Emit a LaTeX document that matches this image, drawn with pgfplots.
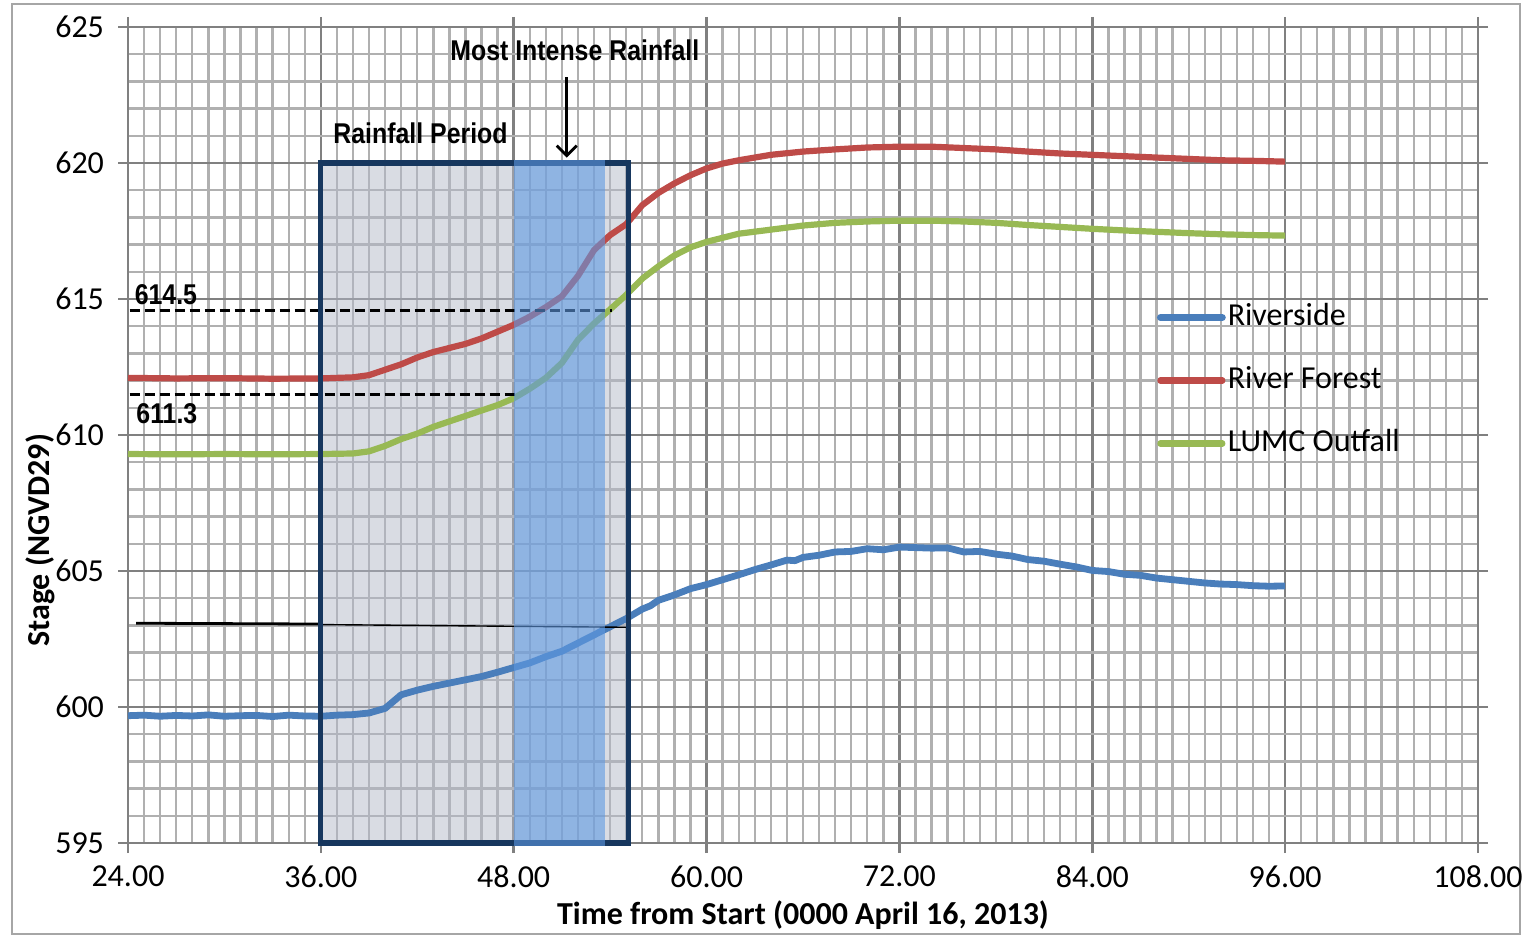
\documentclass[border=0pt]{standalone}
\usepackage{fontspec}
\setmainfont{Carlito}
\newfontfamily\annfont[FakeStretch=0.87]{Liberation Sans}
\usepackage{pgfplots}
\pgfplotsset{compat=1.18}
\usetikzlibrary{arrows.meta}
\definecolor{rsblue}{HTML}{4A7EBB}
\definecolor{rfred}{HTML}{BE4B48}
\definecolor{lumcgreen}{HTML}{98B954}
\definecolor{navy}{HTML}{17375E}
\definecolor{boxgray}{HTML}{B3B9C8}
\definecolor{intblue}{HTML}{5E99E2}
\begin{document}
\begin{tikzpicture}
\path[use as bounding box] (-64pt,-46.5pt) rectangle (698pt,421.5pt);
\draw[gray!70, line width=1pt] (-58pt,-45.5pt) rectangle (696pt,419.5pt);
\begin{axis}[
  at={(0,0)}, anchor=south west,
  scale only axis, width=675pt, height=408pt,
  xmin=24, xmax=108, ymin=595, ymax=625,
  clip=false,
  xtick={24,36,...,108}, ytick={595,600,...,625},
  minor x tick num=11, minor y tick num=4,
  grid=both,
  major grid style={color=gray!100, line width=1.3pt},
  minor grid style={color=gray!62, line width=1.2pt},
  axis line style={gray!100, line width=1.3pt},
  tick style={gray!100, line width=1.3pt},
  tick align=outside, major tick length=5pt, minor tick length=0pt,
  /pgf/number format/assume math mode=true,
  xticklabel style={/pgf/number format/.cd, fixed, fixed zerofill, precision=2, /tikz/.cd, yshift=-3pt},
  yticklabel style={xshift=-3.5pt},
  ticklabel style={font=\fontsize{16}{19}\selectfont},
  xlabel={Time from Start (0000 April 16, 2013)},
  xlabel style={font=\bfseries\fontsize{16}{19}\selectfont, at={(axis description cs:0.5,-0.0882)}, anchor=center},
  ylabel={Stage (NGVD29)},
  ylabel style={font=\bfseries\fontsize{16}{19}\selectfont, at={(axis description cs:-0.0652,0.371)}, anchor=center, rotate=0},
  legend style={draw=none, fill=none, at={(axis cs:88.0,612.0)}, anchor=west, inner sep=0pt,
    font=\fontsize{16}{19}\selectfont, row sep=14pt,
    nodes={text height=11.5pt, text depth=4pt, inner sep=1pt}},
  legend cell align=left,
  legend image code/.code={\draw[#1, line cap=round] (0pt,0pt) -- (31pt,0pt);},
]
% rainfall period background
\fill[boxgray, fill opacity=0.5] (axis cs:36,595) rectangle (axis cs:55.15,620);

\addplot[rsblue, line width=3.4pt, line join=round] coordinates {
(24,599.68) (25,599.70) (26,599.66) (27,599.69) (28,599.67) (29,599.71) (30,599.66) (31,599.68)
(32,599.69) (33,599.65) (34,599.70) (35,599.67) (36,599.66) (37,599.70) (38,599.72) (39,599.78)
(40,599.95) (40.5,600.2) (41,600.45) (42,600.62) (43,600.76) (44,600.88) (45,601.0) (46,601.12)
(47,601.28) (48,601.45) (49,601.62) (50,601.85) (51,602.05) (52,602.35) (53,602.65) (54,602.95)
(55,603.25) (56,603.6) (56.5,603.72) (57,603.92) (58,604.12) (59,604.35) (60,604.5) (61,604.68)
(62,604.86) (63,605.05) (64,605.22) (65,605.4) (65.5,605.38) (66,605.5) (67,605.58) (68,605.7)
(69,605.72) (70,605.82) (71,605.78) (72,605.88) (73,605.86) (74,605.84) (75,605.85) (76,605.7)
(77,605.72) (78,605.62) (79,605.55) (80,605.42) (81,605.36) (82,605.25) (83,605.15) (84,605.02)
(85,604.98) (86,604.88) (87,604.84) (88,604.74) (89,604.68) (90,604.62) (91,604.56) (92,604.52)
(93,604.5) (94,604.46) (95,604.44) (96,604.45)
};
\addlegendentry{Riverside}

\addplot[rfred, line width=3.1pt, line join=round] coordinates {
(24,612.1) (27,612.08) (30,612.09) (33,612.07) (36,612.08) (38,612.12) (39,612.2) (40,612.4)
(41,612.6) (42,612.85) (43,613.05) (44,613.2) (45,613.35) (46,613.55) (47,613.8) (48,614.05)
(49,614.35) (50,614.7) (51,615.1) (52,615.85) (53,616.8) (54,617.35) (55,617.75) (56,618.45)
(57,618.9) (58,619.25) (59,619.55) (60,619.8) (61,619.98) (62,620.1) (63,620.2) (64,620.3)
(66,620.42) (68,620.5) (70,620.57) (72,620.6) (74,620.6) (76,620.55) (78,620.5) (80,620.42)
(82,620.35) (84,620.3) (86,620.25) (88,620.2) (90,620.15) (92,620.1) (94,620.08) (96,620.05)
};
\addlegendentry{River Forest}

\addplot[lumcgreen, line width=3.1pt, line join=round] coordinates {
(24,609.3) (27,609.29) (30,609.3) (33,609.29) (36,609.3) (38,609.32) (39,609.4) (40,609.6)
(41,609.85) (42,610.05) (43,610.3) (44,610.5) (45,610.7) (46,610.9) (47,611.1) (48,611.35)
(49,611.7) (50,612.1) (51,612.65) (52,613.5) (53,614.1) (54,614.62) (55,615.15) (56,615.75)
(57,616.2) (58,616.6) (59,616.9) (60,617.1) (61,617.25) (62,617.4) (64,617.55) (66,617.7)
(68,617.8) (70,617.85) (72,617.88) (74,617.88) (76,617.85) (78,617.8) (80,617.72) (82,617.65)
(84,617.58) (86,617.52) (88,617.47) (90,617.42) (92,617.38) (94,617.35) (96,617.33)
};
\addlegendentry{LUMC Outfall}

% reference lines
\addplot[black, line width=1.5pt, dash pattern=on 5pt off 2.5pt, forget plot] coordinates {(24.1,614.57) (54.1,614.57)};
\addplot[black, line width=1.5pt, dash pattern=on 5pt off 2.5pt, forget plot] coordinates {(24.1,611.5) (48.2,611.5)};
\addplot[black, line width=1.4pt, forget plot] coordinates {(24.5,603.08) (36,603.05)};
\addplot[black, line width=0.7pt, forget plot] coordinates {(36,603.03) (55.15,602.93)};

% rainfall period border
\draw[navy, line width=2.6pt] (axis cs:36,595) rectangle (axis cs:55.15,620);
% most intense rainfall
\fill[intblue, fill opacity=0.6] (axis cs:48,594.9) rectangle (axis cs:53.7,620.1);

% annotations
\node[font=\annfont\bfseries\fontsize{14.3}{16}\selectfont] at (axis cs:51.8,624.15) {Most Intense Rainfall};
\draw[black, line width=1.4pt, -{Straight Barb[length=5pt,width=10pt,line width=1.4pt]}] (axis cs:51.3,623.15) -- (axis cs:51.3,620.2);
\node[font=\annfont\bfseries\fontsize{14.3}{16}\selectfont] at (axis cs:42.2,621.1) {Rainfall Period};
\node[font=\annfont\bfseries\fontsize{14.3}{16}\selectfont, anchor=west, inner sep=0pt] at (axis cs:24.4,615.15) {614.5};
\node[font=\annfont\bfseries\fontsize{14.3}{16}\selectfont, anchor=west, inner sep=0pt] at (axis cs:24.5,610.8) {611.3};
\end{axis}
\end{tikzpicture}
\end{document}
